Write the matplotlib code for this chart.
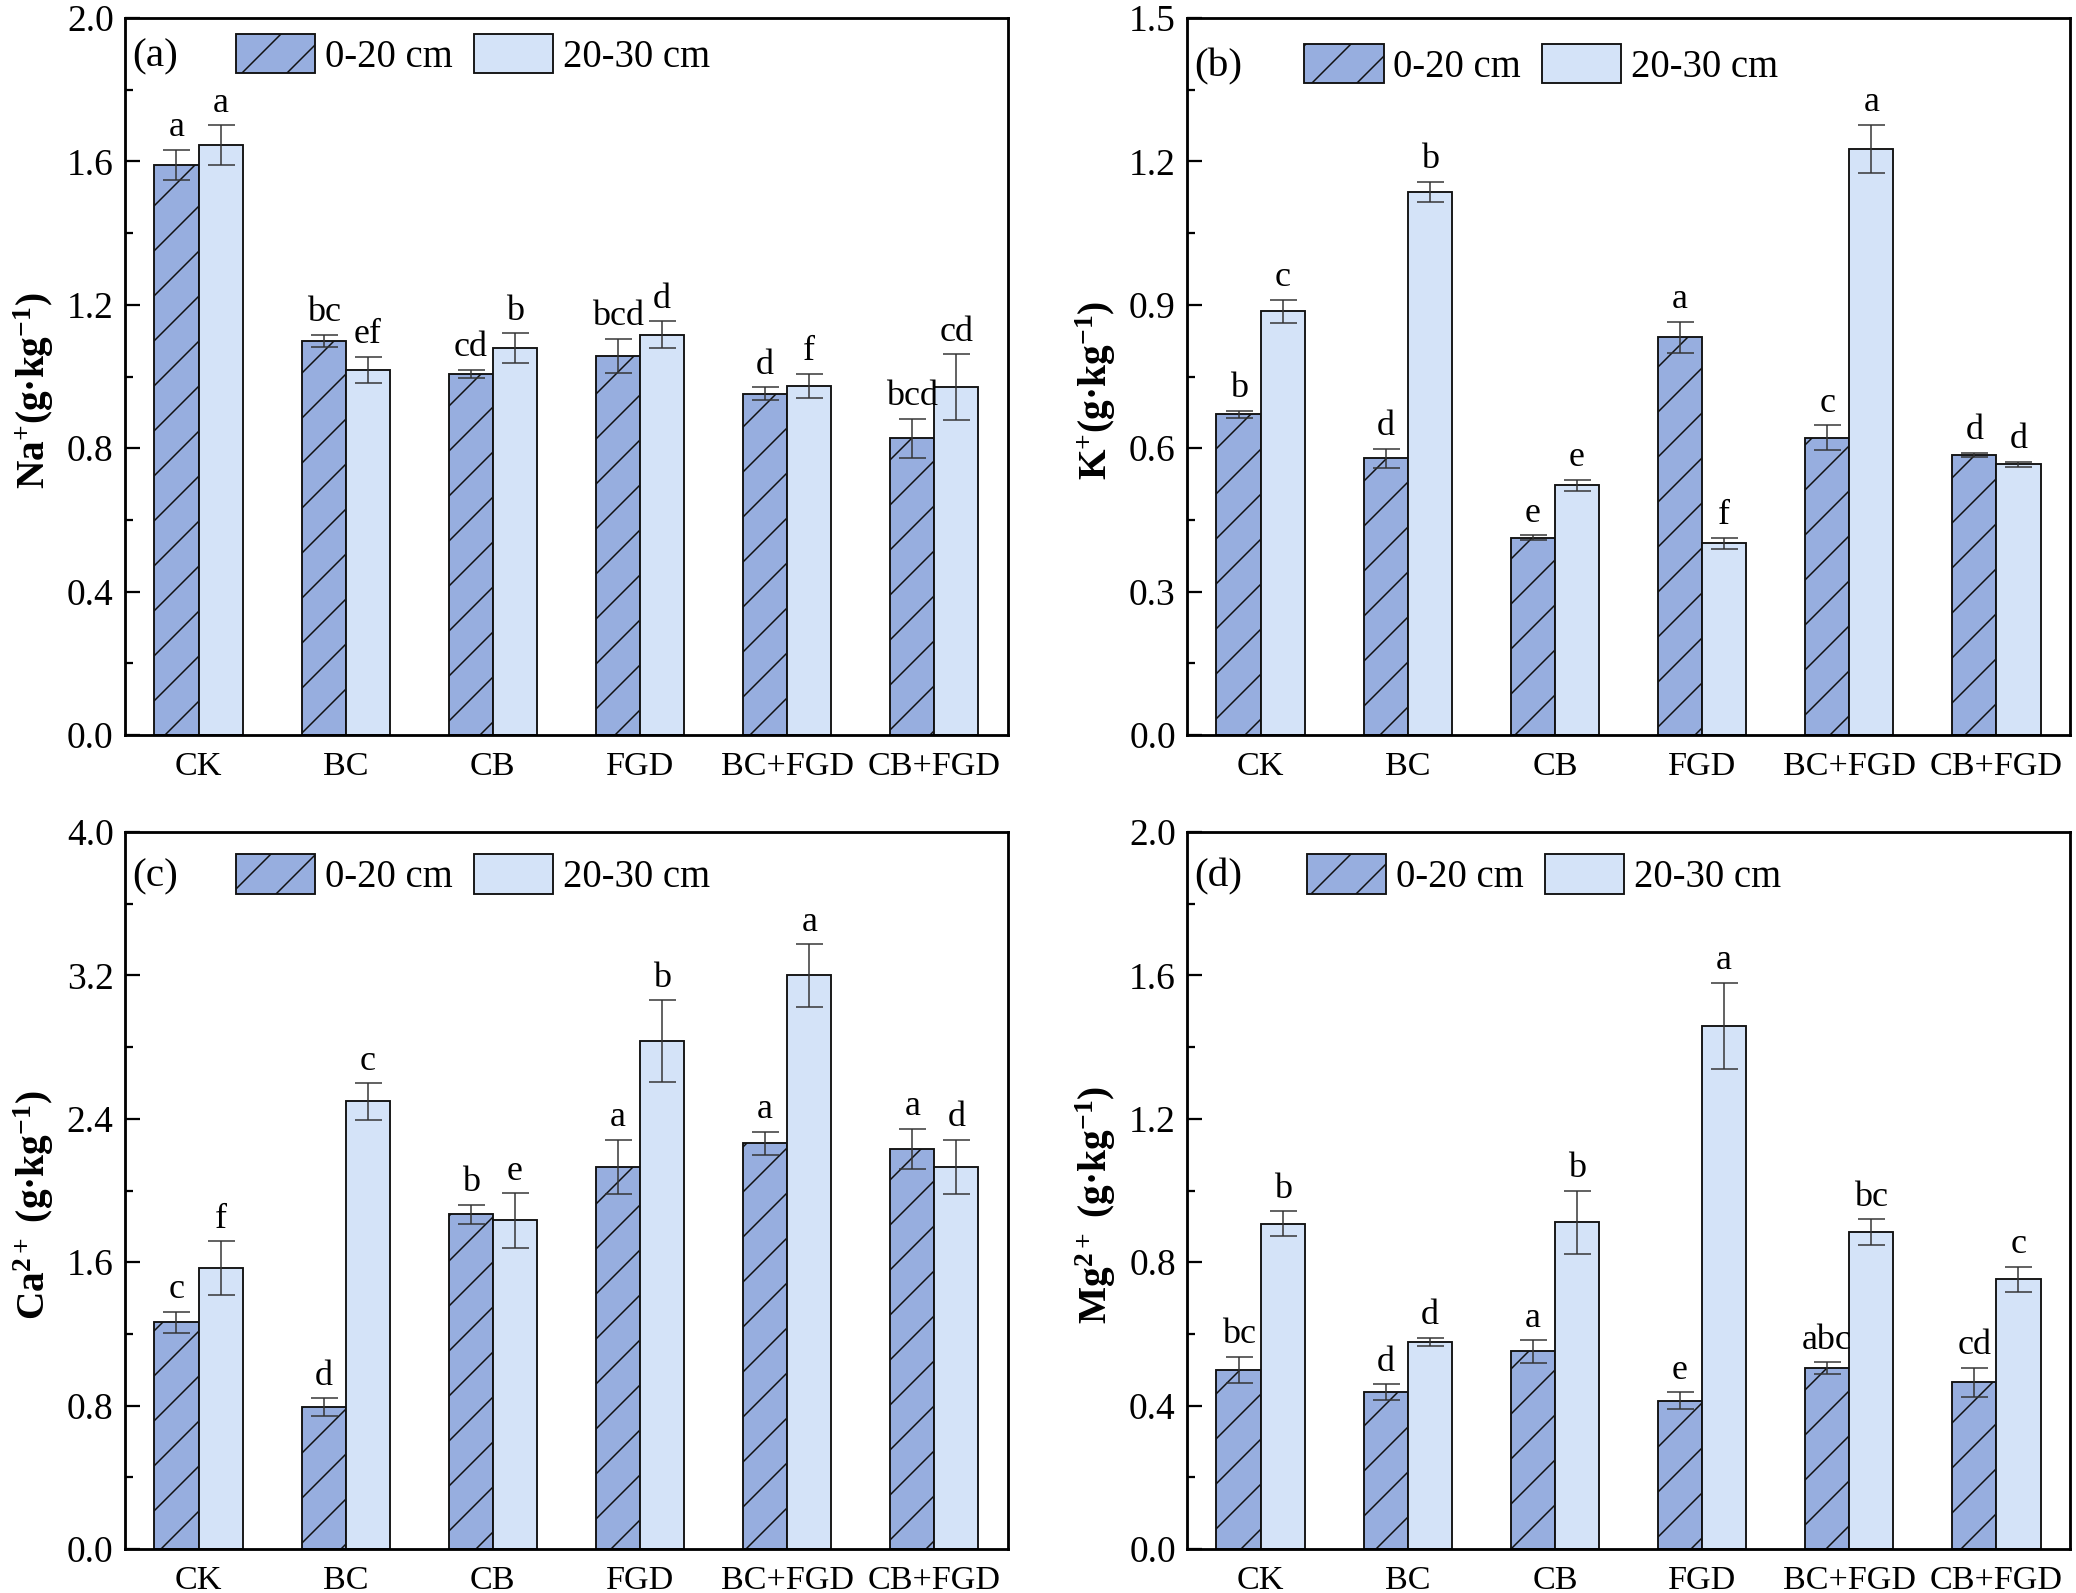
import numpy as np
import matplotlib
matplotlib.use("Agg")
import matplotlib.pyplot as plt
from matplotlib.ticker import MultipleLocator, FormatStrFormatter

# data: 0-20 cm (top) and 20-30 cm (sub) layers
categories = ['CK', 'BC', 'CB', 'FGD', 'BC+FGD', 'CB+FGD']
depths = ['0-20 cm', '20-30 cm']

na_top = [1.591, 1.099, 1.008, 1.058, 0.952, 0.828]
na_top_err = [0.042, 0.018, 0.011, 0.048, 0.018, 0.054]
na_sub = [1.646, 1.018, 1.080, 1.117, 0.974, 0.971]
na_sub_err = [0.055, 0.037, 0.041, 0.037, 0.033, 0.091]
na_top_sig = ['a', 'bc', 'cd', 'bcd', 'd', 'bcd']
na_sub_sig = ['a', 'ef', 'b', 'd', 'f', 'cd']

k_top = [0.671, 0.579, 0.413, 0.832, 0.622, 0.586]
k_top_err = [0.007, 0.020, 0.005, 0.033, 0.026, 0.005]
k_sub = [0.886, 1.136, 0.522, 0.401, 1.226, 0.566]
k_sub_err = [0.025, 0.021, 0.012, 0.012, 0.051, 0.005]
k_top_sig = ['b', 'd', 'e', 'a', 'c', 'd']
k_sub_sig = ['c', 'b', 'e', 'f', 'a', 'd']

ca_top = [1.264, 0.791, 1.868, 2.132, 2.263, 2.232]
ca_top_err = [0.060, 0.049, 0.054, 0.151, 0.063, 0.114]
ca_sub = [1.566, 2.497, 1.833, 2.833, 3.200, 2.132]
ca_sub_err = [0.151, 0.102, 0.151, 0.228, 0.174, 0.151]
ca_top_sig = ['c', 'd', 'b', 'a', 'a', 'a']
ca_sub_sig = ['f', 'c', 'e', 'b', 'a', 'd']

mg_top = [0.500, 0.438, 0.551, 0.414, 0.505, 0.465]
mg_top_err = [0.036, 0.021, 0.031, 0.023, 0.016, 0.041]
mg_sub = [0.908, 0.578, 0.912, 1.459, 0.884, 0.752]
mg_sub_err = [0.034, 0.011, 0.088, 0.121, 0.036, 0.035]
mg_top_sig = ['bc', 'd', 'a', 'e', 'abc', 'cd']
mg_sub_sig = ['b', 'd', 'b', 'a', 'bc', 'c']

DPI = 270
plt.rcParams['font.family'] = ['Liberation Serif', 'DejaVu Serif']
plt.rcParams['mathtext.fontset'] = 'custom'
plt.rcParams['mathtext.rm'] = 'Liberation Serif:bold'
plt.rcParams['mathtext.it'] = 'Liberation Serif:bold'
plt.rcParams['hatch.linewidth'] = 0.4

dark = '#97AEDF'
light = '#D4E3F8'
width = 0.3


def draw_panel(ax, top, top_err, sub, sub_err, top_sig, sub_sig,
               ymax, step, ylabel, tag, leg_x, leg_y):
    x = np.arange(len(categories))
    ekw = dict(ecolor='#333333', elinewidth=0.4, capsize=3.6, capthick=0.4)
    b1 = ax.bar(x - width / 2, top, width, yerr=top_err, color=dark,
                edgecolor='#111111', linewidth=0.5, hatch='//',
                error_kw=ekw, label=depths[0], zorder=2)
    b2 = ax.bar(x + width / 2, sub, width, yerr=sub_err, color=light,
                edgecolor='#111111', linewidth=0.5,
                error_kw=ekw, label=depths[1], zorder=2)

    for xs, vals, errs, sig in [(x - width / 2, top, top_err, top_sig),
                                (x + width / 2, sub, sub_err, sub_sig)]:
        for xi, v, e, s in zip(xs, vals, errs, sig):
            ax.annotate(s, (xi, v + e), xytext=(0, 1.5),
                        textcoords='offset points', ha='center',
                        va='bottom', fontsize=9.6)

    ax.set_xlim(-0.5, len(categories) - 0.5)
    ax.set_ylim(0, ymax)
    ax.set_xticks(x)
    ax.set_xticklabels(categories)
    ax.yaxis.set_major_locator(MultipleLocator(step))
    ax.yaxis.set_minor_locator(MultipleLocator(step / 2))
    ax.yaxis.set_major_formatter(FormatStrFormatter('%.1f'))
    ax.tick_params(axis='y', which='major', direction='in', length=4,
                   width=0.6, pad=3, labelsize=10)
    ax.tick_params(axis='y', which='minor', direction='in', length=2,
                   width=0.6)
    ax.tick_params(axis='x', length=0, pad=4.5, labelsize=9.1)
    for sp in ax.spines.values():
        sp.set_linewidth(0.75)

    ax.set_ylabel(ylabel, fontsize=10.5, fontweight='bold')
    ax.yaxis.set_label_coords(-0.078, 0.48)

    ax.legend(handles=[b1, b2], loc='upper left',
              bbox_to_anchor=(leg_x, leg_y), frameon=False, ncol=2,
              fontsize=10.3, borderpad=0, borderaxespad=0,
              handlelength=2.05, handleheight=1.2, handletextpad=0.25,
              columnspacing=0.55)
    ax.text(0.008, leg_y - 0.032, tag, transform=ax.transAxes,
            ha='left', va='center', fontsize=11)


fig = plt.figure(figsize=(2076 / DPI, 1593 / DPI), dpi=DPI)
w, h = 0.4253, 0.4501
ax_a = fig.add_axes([0.0602, 0.5386, w, h])
ax_b = fig.add_axes([0.5718, 0.5386, w, h])
ax_c = fig.add_axes([0.0602, 0.0276, w, h])
ax_d = fig.add_axes([0.5718, 0.0276, w, h])

draw_panel(ax_a, na_top, na_top_err, na_sub, na_sub_err, na_top_sig,
           na_sub_sig, 2.0, 0.4, 'Na$^{+}$(g·kg$^{-1}$)', '(a)', 0.126, 0.978)
draw_panel(ax_b, k_top, k_top_err, k_sub, k_sub_err, k_top_sig,
           k_sub_sig, 1.5, 0.3, 'K$^{+}$(g·kg$^{-1}$)', '(b)', 0.133, 0.964)
draw_panel(ax_c, ca_top, ca_top_err, ca_sub, ca_sub_err, ca_top_sig,
           ca_sub_sig, 4.0, 0.8, 'Ca$^{2+}$ (g·kg$^{-1}$)', '(c)', 0.126, 0.969)
draw_panel(ax_d, mg_top, mg_top_err, mg_sub, mg_sub_err, mg_top_sig,
           mg_sub_sig, 2.0, 0.4, 'Mg$^{2+}$ (g·kg$^{-1}$)', '(d)', 0.136, 0.969)

fig.savefig('out.png', dpi=DPI)
